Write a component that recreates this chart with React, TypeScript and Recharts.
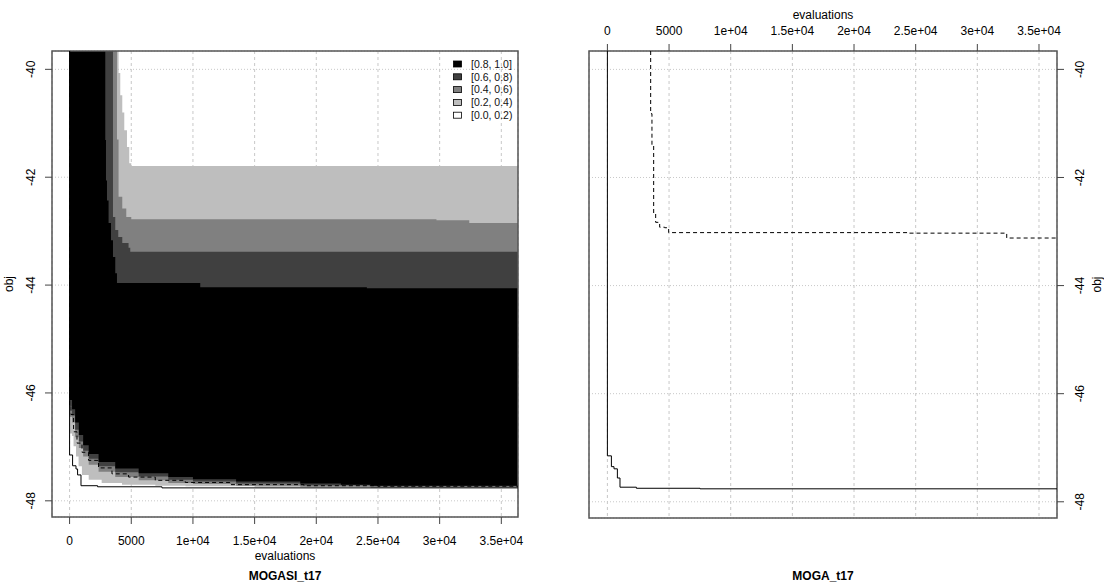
import React from 'react';
import { ComposedChart, Area, Line, XAxis, YAxis, CartesianGrid, ReferenceArea } from 'recharts';

type Pt = [number, number];

// ---- axes ----
const EVAL_TICKS = [0, 5000, 10000, 15000, 20000, 25000, 30000, 35000];
const EVAL_TICK_LABELS = ['0', '5000', '1e+04', '1.5e+04', '2e+04', '2.5e+04', '3e+04', '3.5e+04'];
const OBJ_TICKS = [-48, -46, -44, -42, -40];
const OBJ_RANGE: Pt = [-48.3, -39.66];
const MOGASI_EVAL_RANGE: Pt = [-1426, 36352];
const MOGA_EVAL_RANGE: Pt = [-1492, 36460];
const TOP = OBJ_RANGE[1];

// ---- attainment levels ----
const LEVEL_LABELS = ['[0.8, 1.0]', '[0.6, 0.8)', '[0.4, 0.6)', '[0.2, 0.4)', '[0.0, 0.2)'];
const LEVEL_COLORS = ['#000000', '#404040', '#808080', '#bebebe', '#ffffff'];

// MOGASI_t17: upper / lower edges of each attainment band (evaluations, obj)
const MOGASI_UPPER_20: Pt[] = [[0, TOP], [3970, -40.07], [4108, -40.48], [4271, -40.8], [4433, -41.13], [4652, -41.44], [4838, -41.74], [5000, -41.79]];
const MOGASI_LOWER_20: Pt[] = [[0, -46.75], [200, -46.8], [320, -46.99], [520, -47.18], [730, -47.36], [1000, -47.52], [1550, -47.61], [2600, -47.67], [4250, -47.7], [6950, -47.72], [9400, -47.73], [15000, -47.75], [24400, -47.76]];
const MOGASI_UPPER_40: Pt[] = [[0, TOP], [3841, -41.3], [3970, -42.36], [4271, -42.58], [4595, -42.74], [5000, -42.78], [29740, -42.8], [32400, -42.85]];
const MOGASI_LOWER_40: Pt[] = [[0, -46.44], [200, -46.55], [450, -46.82], [750, -47.02], [1100, -47.18], [1550, -47.33], [2350, -47.46], [3700, -47.56], [5600, -47.62], [8000, -47.67], [10000, -47.69], [13500, -47.72], [18700, -47.74], [24400, -47.75]];
const MOGASI_UPPER_60: Pt[] = [[0, TOP], [3517, -42.74], [3703, -42.98], [3946, -43.11], [4271, -43.22], [4781, -43.31], [4919, -43.38]];
const MOGASI_LOWER_60: Pt[] = [[0, -46.25], [200, -46.42], [450, -46.68], [750, -46.9], [1100, -47.07], [1550, -47.22], [2350, -47.36], [3700, -47.47], [5600, -47.55], [8000, -47.61], [10000, -47.64], [13500, -47.68], [18700, -47.71], [24400, -47.73]];
const MOGASI_UPPER_80: Pt[] = [[0, TOP], [2893, -41.31], [2950, -42.06], [3031, -42.43], [3160, -42.85], [3355, -43.17], [3517, -43.48], [3703, -43.78], [3841, -43.96], [10592, -44.04], [24100, -44.06]];
const MOGASI_LOWER_80: Pt[] = [[0, -46.13], [200, -46.3], [450, -46.55], [750, -46.78], [1100, -46.97], [1550, -47.13], [2350, -47.28], [3700, -47.4], [5600, -47.49], [8000, -47.56], [10000, -47.6], [13500, -47.64], [18700, -47.68], [22000, -47.7], [24400, -47.72]];

// MOGASI_t17 best and median attainment surfaces
const MOGASI_BEST: Pt[] = [[0, TOP], [0, -47.15], [243, -47.35], [519, -47.41], [648, -47.52], [924, -47.72], [2269, -47.74], [7488, -47.76]];
const MOGASI_MEDIAN: Pt[] = [[0, TOP], [0, -46.25], [113, -46.4], [324, -46.72], [600, -46.93], [1005, -47.1], [1540, -47.25], [2350, -47.39], [3436, -47.5], [4781, -47.56], [6945, -47.62], [9376, -47.66], [13000, -47.7], [19000, -47.72], [25000, -47.73]];

// MOGA_t17 best and median attainment surfaces
const MOGA_BEST: Pt[] = [[0, TOP], [0, -47.15], [324, -47.35], [535, -47.39], [810, -47.56], [1021, -47.73], [2350, -47.75], [7514, -47.76]];
const MOGA_MEDIAN: Pt[] = [[3509, TOP], [3509, -40.82], [3614, -41.41], [3752, -42.67], [3914, -42.83], [4238, -42.92], [4643, -42.93], [4968, -43.02], [24497, -43.03], [32383, -43.12]];

// ---- helpers turning the staircases into rows for the library ----
function valueAt(pts: Pt[], x: number): number {
  let v = pts[0][1];
  for (const p of pts) if (p[0] <= x) v = p[1];
  return v;
}

function bandRows(lower: Pt[], upper: Pt[], xEnd: number) {
  const xs = Array.from(new Set([...lower, ...upper].map((p) => p[0]).concat(xEnd))).sort((a, b) => a - b);
  return xs.map((x) => ({ x, range: [valueAt(lower, x), valueAt(upper, x)] }));
}

function lineRows(pts: Pt[], xEnd: number) {
  return [...pts.map(([x, y]) => ({ x, y })), { x: xEnd, y: pts[pts.length - 1][1] }];
}

const MOGASI_BANDS = [
  { key: 'b20', color: LEVEL_COLORS[3], rows: bandRows(MOGASI_LOWER_20, MOGASI_UPPER_20, MOGASI_EVAL_RANGE[1]) },
  { key: 'b40', color: LEVEL_COLORS[2], rows: bandRows(MOGASI_LOWER_40, MOGASI_UPPER_40, MOGASI_EVAL_RANGE[1]) },
  { key: 'b60', color: LEVEL_COLORS[1], rows: bandRows(MOGASI_LOWER_60, MOGASI_UPPER_60, MOGASI_EVAL_RANGE[1]) },
  { key: 'b80', color: LEVEL_COLORS[0], rows: bandRows(MOGASI_LOWER_80, MOGASI_UPPER_80, MOGASI_EVAL_RANGE[1]) },
];

const FONT = '"Liberation Sans", Arial, Helvetica, sans-serif';
const GRID = '#c8c8c8';
const FRAME = '#555555';

const fmtEval = (v: number) => {
  const i = EVAL_TICKS.indexOf(v);
  return i >= 0 ? EVAL_TICK_LABELS[i] : String(v);
};

const ObjTick = (props: any) => {
  const { x, y, payload } = props;
  return (
    <text x={x} y={y} transform={`rotate(-90 ${x} ${y})`} textAnchor="middle" fontSize={12} fill="#000" fontFamily={FONT}>
      {String(payload.value)}
    </text>
  );
};

const tickStyle = { fontSize: 12, fill: '#000', fontFamily: FONT };

function Grids() {
  return null;
}

export default function App() {
  return (
    <div style={{ position: 'absolute', left: 0, top: 0, width: 1104, height: 583, background: '#fff', fontFamily: FONT }}>
      {/* MOGASI_t17 */}
      <div style={{ position: 'absolute', left: 0, top: 0 }}>
        <ComposedChart width={560} height={583} margin={{ top: 51, right: 42, bottom: 0, left: 0 }}>
          <CartesianGrid horizontal vertical={false} stroke={GRID} strokeDasharray="1 2" />
          <CartesianGrid horizontal={false} vertical stroke={GRID} strokeDasharray="3 3" />
          <XAxis
            type="number"
            dataKey="x"
            domain={MOGASI_EVAL_RANGE}
            allowDataOverflow
            ticks={EVAL_TICKS}
            interval={0}
            tickFormatter={fmtEval}
            height={66}
            tickSize={7}
            tickMargin={12}
            axisLine={false}
            tickLine={{ stroke: '#444' }}
            tick={tickStyle}
          />
          <YAxis
            type="number"
            domain={OBJ_RANGE}
            allowDataOverflow
            ticks={OBJ_TICKS}
            interval={0}
            width={52}
            tickSize={7}
            tickMargin={10}
            axisLine={false}
            tickLine={{ stroke: '#444' }}
            tick={(p: any) => <ObjTick {...p} />}
          />
          {MOGASI_BANDS.map((b) => (
            <Area
              key={b.key}
              data={b.rows}
              dataKey="range"
              type="stepAfter"
              stroke="none"
              fill={b.color}
              fillOpacity={1}
              dot={false}
              activeDot={false}
              isAnimationActive={false}
            />
          ))}
          <Line data={lineRows(MOGASI_BEST, MOGASI_EVAL_RANGE[1])} dataKey="y" type="stepAfter" stroke="#000" strokeWidth={1} dot={false} activeDot={false} isAnimationActive={false} />
          <Line data={lineRows(MOGASI_MEDIAN, MOGASI_EVAL_RANGE[1])} dataKey="y" type="stepAfter" stroke="#000" strokeWidth={1} strokeDasharray="4 3" dot={false} activeDot={false} isAnimationActive={false} />
          <ReferenceArea x1={MOGASI_EVAL_RANGE[0]} x2={MOGASI_EVAL_RANGE[1]} y1={OBJ_RANGE[0]} y2={OBJ_RANGE[1]} fill="none" fillOpacity={0} stroke={FRAME} strokeWidth={1.5} ifOverflow="visible" />
        </ComposedChart>
      </div>

      {/* MOGA_t17 */}
      <div style={{ position: 'absolute', left: 560, top: 0 }}>
        <ComposedChart width={544} height={583} margin={{ top: 0, right: 0, bottom: 65, left: 29 }}>
          <CartesianGrid horizontal vertical={false} stroke={GRID} strokeDasharray="1 2" />
          <CartesianGrid horizontal={false} vertical stroke={GRID} strokeDasharray="3 3" />
          <XAxis
            type="number"
            dataKey="x"
            orientation="top"
            domain={MOGA_EVAL_RANGE}
            allowDataOverflow
            ticks={EVAL_TICKS}
            interval={0}
            tickFormatter={fmtEval}
            height={51}
            tickSize={7}
            tickMargin={9}
            axisLine={false}
            tickLine={{ stroke: '#444' }}
            tick={tickStyle}
          />
          <YAxis
            type="number"
            orientation="right"
            domain={OBJ_RANGE}
            allowDataOverflow
            ticks={OBJ_TICKS}
            interval={0}
            width={47}
            tickSize={7}
            tickMargin={20}
            axisLine={false}
            tickLine={{ stroke: '#444' }}
            tick={(p: any) => <ObjTick {...p} />}
          />
          <Line data={lineRows(MOGA_BEST, MOGA_EVAL_RANGE[1])} dataKey="y" type="stepAfter" stroke="#000" strokeWidth={1} dot={false} activeDot={false} isAnimationActive={false} />
          <Line data={lineRows(MOGA_MEDIAN, MOGA_EVAL_RANGE[1])} dataKey="y" type="stepAfter" stroke="#000" strokeWidth={1} strokeDasharray="4 3" dot={false} activeDot={false} isAnimationActive={false} />
          <ReferenceArea x1={MOGA_EVAL_RANGE[0]} x2={MOGA_EVAL_RANGE[1]} y1={OBJ_RANGE[0]} y2={OBJ_RANGE[1]} fill="none" fillOpacity={0} stroke={FRAME} strokeWidth={1.5} ifOverflow="visible" />
        </ComposedChart>
      </div>

      {/* titles, axis names and legend */}
      <svg width={1104} height={583} style={{ position: 'absolute', left: 0, top: 0, pointerEvents: 'none' }} fontFamily={FONT}>
        <text x={285} y={560} textAnchor="middle" fontSize={12} fill="#000">evaluations</text>
        <text x={285} y={580} textAnchor="middle" fontSize={12} fontWeight="bold" fill="#000">MOGASI_t17</text>
        <text x={13} y={284} transform="rotate(-90 13 284)" textAnchor="middle" fontSize={12} fill="#000">obj</text>

        <text x={823} y={19} textAnchor="middle" fontSize={12} fill="#000">evaluations</text>
        <text x={823} y={580} textAnchor="middle" fontSize={12} fontWeight="bold" fill="#000">MOGA_t17</text>
        <text x={1101} y={284.5} transform="rotate(-90 1101 284.5)" textAnchor="middle" fontSize={12} fill="#000">obj</text>

        {LEVEL_LABELS.map((lab, i) => (
          <g key={lab}>
            <rect x={453.5} y={61 + 12.8 * i} width={8} height={6} fill={LEVEL_COLORS[i]} stroke="#000" strokeWidth={0.8} />
            <text x={471} y={67.8 + 12.8 * i} fontSize={10.5} fill="#111">{lab}</text>
          </g>
        ))}
      </svg>
    </div>
  );
}
